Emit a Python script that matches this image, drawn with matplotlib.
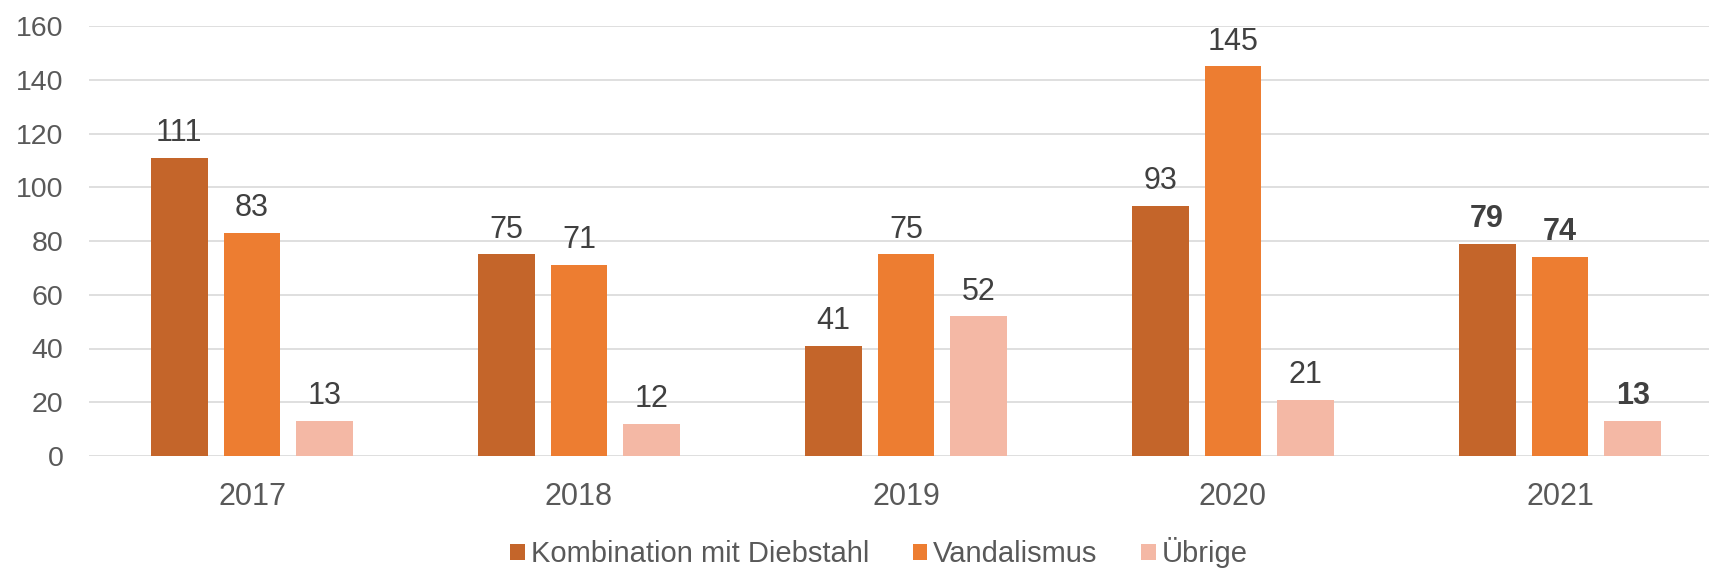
import numpy as np
import matplotlib.pyplot as plt

plt.rcParams['font.family'] = ['Liberation Sans', 'DejaVu Sans']

# data
years = ['2017', '2018', '2019', '2020', '2021']
kombination = [111, 75, 41, 93, 79]
vandalismus = [83, 71, 75, 145, 74]
uebrige = [13, 12, 52, 21, 13]

series = [
    ('Kombination mit Diebstahl', kombination, '#C4652A'),
    ('Vandalismus', vandalismus, '#ED7D31'),
    ('Übrige', uebrige, '#F4B8A5'),
]

W, H = 1709, 570
fig = plt.figure(figsize=(W / 100, H / 100), dpi=100)
# axes runs past the right edge like in the original
ax = fig.add_axes([88.5 / W, (H - 456) / H, 1635 / W, 430 / H])

x = np.arange(len(years))
bw = 0.174
step = 0.223
for i, (name, vals, col) in enumerate(series):
    bars = ax.bar(x + (i - 1) * step, vals, bw, color=col, label=name, zorder=3)
    labels = ax.bar_label(bars, padding=7, fontsize=22, color='#404040')
    labels[-1].set_fontweight('bold')

ax.set_xlim(-0.5, len(years) - 0.5)
ax.set_ylim(0, 160)
ax.set_yticks(np.arange(0, 161, 20))
ax.set_xticks(x)
ax.set_xticklabels(years)
ax.tick_params(axis='both', length=0, labelcolor='#595959')
ax.tick_params(axis='x', pad=19, labelsize=22)
ax.tick_params(axis='y', pad=18, labelsize=20.5)
ax.grid(axis='y', color='#D9D9D9', lw=1.2, zorder=0)
ax.set_axisbelow(True)
for s in ax.spines.values():
    s.set_visible(False)

fig.legend(loc='center', bbox_to_anchor=(879 / W, 1 - 553 / H), ncol=3,
           frameon=False, fontsize=21, handlelength=0.5, handleheight=0.5,
           handletextpad=0.2, columnspacing=1.5, labelcolor='#595959')

fig.savefig('out.png', dpi=100)
